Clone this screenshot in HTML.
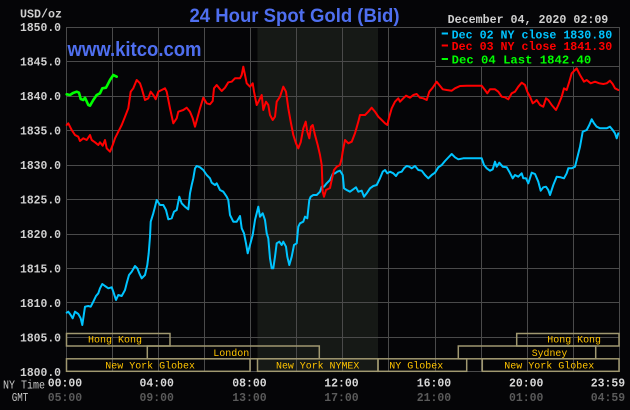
<!DOCTYPE html>
<html><head><meta charset="utf-8"><style>
html,body{margin:0;padding:0;background:#050507;}
svg{display:block;}
</style></head><body>
<svg width="630" height="410" viewBox="0 0 630 410" xmlns="http://www.w3.org/2000/svg">
<rect width="630" height="410" fill="#050507"/>
<!-- NYMEX shaded session -->
<rect x="257.5" y="27" width="120.5" height="344.5" fill="#161916"/>
<!-- grid -->
<g stroke="#4a4a4a" stroke-width="1" shape-rendering="crispEdges">
<line x1="66" y1="27.5" x2="619" y2="27.5"/>
<line x1="66" y1="61.5" x2="619" y2="61.5"/>
<line x1="66" y1="96.5" x2="619" y2="96.5"/>
<line x1="66" y1="130.5" x2="619" y2="130.5"/>
<line x1="66" y1="165.5" x2="619" y2="165.5"/>
<line x1="66" y1="199.5" x2="619" y2="199.5"/>
<line x1="66" y1="234.5" x2="619" y2="234.5"/>
<line x1="66" y1="268.5" x2="619" y2="268.5"/>
<line x1="66" y1="302.5" x2="619" y2="302.5"/>
<line x1="66" y1="337.5" x2="619" y2="337.5"/>
<line x1="66" y1="371.5" x2="619" y2="371.5"/>
<line x1="66.5" y1="27" x2="66.5" y2="372"/>
<line x1="112.5" y1="27" x2="112.5" y2="372"/>
<line x1="158.5" y1="27" x2="158.5" y2="372"/>
<line x1="204.5" y1="27" x2="204.5" y2="372"/>
<line x1="250.5" y1="27" x2="250.5" y2="372"/>
<line x1="296.5" y1="27" x2="296.5" y2="372"/>
<line x1="342.5" y1="27" x2="342.5" y2="372"/>
<line x1="388.5" y1="27" x2="388.5" y2="372"/>
<line x1="435.5" y1="27" x2="435.5" y2="372"/>
<line x1="481.5" y1="27" x2="481.5" y2="372"/>
<line x1="527.5" y1="27" x2="527.5" y2="372"/>
<line x1="573.5" y1="27" x2="573.5" y2="372"/>
<line x1="619.5" y1="27" x2="619.5" y2="372"/>
</g>
<!-- legend box -->
<rect x="436" y="28" width="183" height="38" fill="#050507"/>
<line x1="436" y1="66.5" x2="619" y2="66.5" stroke="#4a4a4a" stroke-width="1" shape-rendering="crispEdges"/>

<!-- exchange boxes -->
<g fill="none" stroke="#a09870" stroke-width="1.5">
<rect x="66.5" y="333.5" width="103.5" height="12.5"/>
<rect x="147.3" y="346" width="172" height="12.8"/>
<rect x="66.5" y="358.8" width="183.5" height="12.5"/>
<rect x="257.5" y="358.8" width="120.5" height="12.5"/>
<rect x="378" y="358.8" width="88.7" height="12.5"/>
<rect x="482.3" y="358.8" width="136.7" height="12.5"/>
<rect x="458.3" y="346" width="137.4" height="12.8"/>
<rect x="516.7" y="333.5" width="102.3" height="12.5"/>
</g>
<g font-family="Liberation Mono, monospace" font-size="10" fill="#ffc400">
<text x="88" y="342.7" textLength="54" lengthAdjust="spacingAndGlyphs">Hong Kong</text>
<text x="213.3" y="356" textLength="36" lengthAdjust="spacingAndGlyphs">London</text>
<text x="105.3" y="368.5" textLength="89.7" lengthAdjust="spacingAndGlyphs">New York Globex</text>
<text x="276" y="368.5" textLength="83.3" lengthAdjust="spacingAndGlyphs">New York NYMEX</text>
<text x="389.3" y="368.5" textLength="54" lengthAdjust="spacingAndGlyphs">NY Globex</text>
<text x="504.3" y="368.5" textLength="90" lengthAdjust="spacingAndGlyphs">New York Globex</text>
<text x="531.7" y="356" textLength="35.6" lengthAdjust="spacingAndGlyphs">Sydney</text>
<text x="547.3" y="342.7" textLength="53.7" lengthAdjust="spacingAndGlyphs">Hong Kong</text>
</g>

<!-- series -->
<g fill="none" stroke-linejoin="round" stroke-linecap="round">
<polyline stroke="#00c4ff" stroke-width="2" points="66.7,312.7 68.3,311.7 70.7,315 72.7,318.3 75,311.7 78.3,314 80.7,318.3 82.3,325 85,306.7 88.3,306 90.7,306.7 93.3,301.7 96,296 98.3,293.3 100,288.3 102.3,284 105,286 108.3,288.3 111.7,287.3 113.3,291.7 116,300 118.3,295 121.7,296 125,290 126.7,283.3 129,275 131.7,271.7 135,266 137.3,268.3 139.3,273.3 141.7,278.3 145,275 147.3,265 148.7,253.3 150,236.7 150.7,221.7 153.3,213.3 155,206.7 156.7,200 160,205 163.3,205 166,210 168.3,219.3 171.7,218.3 174,211.7 176.7,210 179.3,196.7 181.7,203.3 185,206.7 188.3,209.3 190,193.3 191.7,185 193.3,178.3 195,168.3 196.7,166 200,167.3 203.3,170 206.7,175 210,178.3 211.7,182.7 215,185 216.7,183.3 220,190 223.3,191.7 226.7,196.7 228.3,200 230,215 233.3,221.7 236.7,221.7 240,216 241.7,228.3 244,233.3 246,243.3 247.7,253.3 250,245 252.7,235 255,220 258.3,206.7 260,216.7 262.7,213.3 265,220 266.7,233.3 268.3,238.3 270,258.3 271.7,268.3 273.3,268.3 275,256.7 276.7,243.3 279.3,241.7 281.7,245 283.3,241.7 286,246.7 287.3,256.7 289.3,265 291.7,256.7 294,245 296.7,243.3 298.3,226.7 300,223.3 303.3,221.7 305,216.7 307.3,218.3 309.3,200 310.7,196.7 313.3,195 316.7,195 320,191.7 321.7,186.7 324,186.7 326.7,183.3 330,180 332.7,174 335,173.3 337.3,171.7 340,170.7 342.7,175 344,188.3 346.7,190 350,191.7 353.3,189.3 356,187.3 358.3,191.7 361.7,190.7 364,196.7 366.7,193.3 370,188.3 373.3,186 376.7,185 380,178.3 382.7,171.7 385,170 387.3,173.3 390,171.7 393.3,173.3 396,176 398.3,172.7 401.7,171.7 404,168.3 406.7,166 409.3,166.7 411.7,168.3 415,166 418.3,170 421.7,170.7 425,175 428.3,178.3 431.7,175 435,172.7 438.3,167.3 441.7,165 445,161 448.3,157.5 451.7,154 455,157.3 458.3,159.3 463.3,158.3 481.7,158.3 484,165 486.7,168.3 490,170.7 492.7,169.3 495,161.7 496.7,166.7 499.3,162.7 502.7,166.7 506.7,167.3 509.3,171.7 512.7,178.3 515,175 518.3,176.7 521.7,173.3 523.3,178.3 526,178.3 528.3,183.3 531.7,172.7 535,174 538.3,181.7 540.7,190.7 543.3,187.3 546,186.7 548.3,190 550,195 553.3,185 556.7,176.7 560.7,177.3 564,178.3 566.7,173.3 568.3,168.3 571.7,168.3 575,166.7 576.7,160 580,146.7 582.7,131.7 586.7,130 589.3,125 591.7,119.3 594,123.3 596.7,126.7 600,128.3 606.7,128.3 610,126.7 612.7,130 615,133.3 616.7,138.3 618.3,133.3"/>
<polyline stroke="#ff0000" stroke-width="2" points="66.7,125 68.3,123.3 71.7,130 75,135 78.3,136.7 80,141 83.3,138.3 86.7,140 90,135 91.7,140 95,142.3 98.3,145 100,142.3 102.7,145.7 105,140 106.7,148.3 110,151.7 112.7,145 115,138.3 118.3,131.7 121.7,125 125,116.7 128.3,108.3 130.7,91.7 133.3,88.3 136.7,80 140,83.3 141.7,88.3 145,100 148.3,98.3 150.7,91.7 153.3,95 155.7,99.3 158.3,91.7 161.7,90 165,88.3 166.7,91.7 170,108.3 173.3,123.3 176.7,118.3 178.3,111.7 183.3,110 186.7,107.7 190,111.7 192.7,118.3 195,126.7 197.3,118.3 200,108.3 203.3,97.7 206.7,103.3 210,104.3 212.7,101 214,88.3 216.7,85 219.3,88.3 221.7,91 225,87.7 228.3,82.3 231.7,81.7 235,78.3 240,78.3 241.7,75 243.3,66.7 245,75 246.7,83.3 250,86.7 252.7,83.3 254,91.7 256.7,105 259.3,100 261.7,95 263.3,110 266,101.7 268.3,105 270,115 272.7,120 275,116.7 276.7,101.7 280,96.7 283.3,86.7 286,91.7 288.3,108.3 290.7,121.7 293.3,135 296,143.3 298.3,148.3 300.7,142.3 303.3,128.3 305.7,121.7 307.3,131.7 309.3,138.3 311,126.7 312.7,125 315,135 317.7,145 320,155 321.7,165 322.7,191.7 324,196.7 326,190 330,188 331.7,180 334,170 336.7,166.7 340,165 341.7,158.3 342.7,151.7 345,140 348.3,143.3 351.7,141.7 355,133.3 358.3,121.7 360,115 365,115 368.3,111.7 371.7,107.7 375,111.7 378.3,116.7 381.7,120 385,123.3 387.3,125 389.3,116.7 391.7,108.3 395,101.7 398.3,98.3 400,101.7 403.3,98.3 406,95.7 410,97.7 413.3,95 416.7,94 420,97.7 423.3,98.3 426.7,100 429.3,91.7 432.7,87.7 436.7,81.7 439.3,85 442.7,89.3 446.7,90 451.7,90.7 455,88.3 460,86 466.7,85.7 481.7,85.7 485,90 487.3,93.3 490,89.3 495,89.3 498.3,91.7 501.7,96.7 505,97.3 508.3,99.3 511.7,93.3 515,91.7 518.3,86.7 521.7,82.7 525,85 527.3,91.7 530,96.7 532.7,103.3 535,101.7 536.7,100 540,105 543.3,106.7 546,98.3 548.3,100 551.7,105 556,110 558.3,105 561.7,96.7 564,88.3 566.7,90 569.3,81.7 571.7,73.3 575,70 576.7,68.3 580,75 584,81.7 586.7,80 590.7,83.3 595,81.7 599.3,83.3 603.3,84 606.7,83.3 610,80.7 612.7,84 615,88.3 618.3,90"/>
<polyline stroke="#00ff00" stroke-width="2.6" points="66.7,94.3 70,95 73,93 76.7,91.7 79,92.7 80.7,99 83.3,100 85,97.7 88.3,105 90,105.7 93.3,100 96.7,95 100,93.3 102.3,88.3 106,87.7 108.3,83.3 110,80 113.3,75 116.7,76.7"/>
</g>

<!-- titles -->
<text x="189.5" y="22" font-family="Liberation Sans, Arial, sans-serif" font-weight="bold" font-size="19.5" fill="#4f6ff0" textLength="210" lengthAdjust="spacingAndGlyphs">24 Hour Spot Gold (Bid)</text>
<text x="67.5" y="56" font-family="Liberation Sans, Arial, sans-serif" font-weight="bold" font-size="20" fill="#4f6ff0" textLength="134" lengthAdjust="spacingAndGlyphs">www.kitco.com</text>

<!-- date & legend -->
<g font-family="Liberation Mono, monospace" font-weight="bold" font-size="11.5">
<text x="447.7" y="23" fill="#d0d0d0" textLength="160.6" lengthAdjust="spacingAndGlyphs">December 04, 2020 02:09</text>
<rect x="441.7" y="32.5" width="6.3" height="2" fill="#00c4ff"/>
<text x="451.7" y="38.3" fill="#00c4ff" textLength="160.5" lengthAdjust="spacingAndGlyphs">Dec 02 NY close 1830.80</text>
<rect x="441.7" y="44.5" width="6.3" height="2" fill="#ff0000"/>
<text x="451.7" y="50.2" fill="#ff0000" textLength="160.5" lengthAdjust="spacingAndGlyphs">Dec 03 NY close 1841.30</text>
<rect x="441.7" y="58" width="6.3" height="2" fill="#00ff00"/>
<text x="451.7" y="63.3" fill="#00ff00" textLength="139.5" lengthAdjust="spacingAndGlyphs">Dec 04 Last 1842.40</text>
</g>

<!-- y axis labels -->
<g font-family="Liberation Mono, monospace" font-weight="bold" font-size="11.5" fill="#d0d0d0">
<text x="20" y="17.3" textLength="42" lengthAdjust="spacingAndGlyphs">USD/oz</text>
<text x="20" y="31" textLength="41" lengthAdjust="spacingAndGlyphs">1850.0</text>
<text x="20" y="65.5" textLength="41" lengthAdjust="spacingAndGlyphs">1845.0</text>
<text x="20" y="100" textLength="41" lengthAdjust="spacingAndGlyphs">1840.0</text>
<text x="20" y="134.5" textLength="41" lengthAdjust="spacingAndGlyphs">1835.0</text>
<text x="20" y="169" textLength="41" lengthAdjust="spacingAndGlyphs">1830.0</text>
<text x="20" y="203.5" textLength="41" lengthAdjust="spacingAndGlyphs">1825.0</text>
<text x="20" y="238" textLength="41" lengthAdjust="spacingAndGlyphs">1820.0</text>
<text x="20" y="272.5" textLength="41" lengthAdjust="spacingAndGlyphs">1815.0</text>
<text x="20" y="307" textLength="41" lengthAdjust="spacingAndGlyphs">1810.0</text>
<text x="20" y="341.6" textLength="41" lengthAdjust="spacingAndGlyphs">1805.0</text>
<text x="20" y="376" textLength="41" lengthAdjust="spacingAndGlyphs">1800.0</text>
</g>

<!-- x axis labels -->
<g font-family="Liberation Mono, monospace" font-size="11.5" fill="#c8c8c8">
<text x="3" y="388.3" textLength="42" lengthAdjust="spacingAndGlyphs">NY Time</text>
<text x="11.7" y="401" textLength="16.6" lengthAdjust="spacingAndGlyphs">GMT</text>
</g>
<g font-family="Liberation Mono, monospace" font-weight="bold" font-size="11.5" fill="#d8d8d8">
<text x="47.7" y="386.7" textLength="34.4" lengthAdjust="spacingAndGlyphs">00:00</text>
<text x="139.5" y="386.7" textLength="34.4" lengthAdjust="spacingAndGlyphs">04:00</text>
<text x="232.3" y="386.7" textLength="34.4" lengthAdjust="spacingAndGlyphs">08:00</text>
<text x="324.3" y="386.7" textLength="34.4" lengthAdjust="spacingAndGlyphs">12:00</text>
<text x="416.7" y="386.7" textLength="34.4" lengthAdjust="spacingAndGlyphs">16:00</text>
<text x="509" y="386.7" textLength="34.4" lengthAdjust="spacingAndGlyphs">20:00</text>
<text x="590.7" y="386.7" textLength="34.4" lengthAdjust="spacingAndGlyphs">23:59</text>
</g>
<g font-family="Liberation Mono, monospace" font-weight="bold" font-size="11.5" fill="#5a5a5a">
<text x="47.7" y="401" textLength="34.4" lengthAdjust="spacingAndGlyphs">05:00</text>
<text x="139.5" y="401" textLength="34.4" lengthAdjust="spacingAndGlyphs">09:00</text>
<text x="232.3" y="401" textLength="34.4" lengthAdjust="spacingAndGlyphs">13:00</text>
<text x="324.3" y="401" textLength="34.4" lengthAdjust="spacingAndGlyphs">17:00</text>
<text x="416.7" y="401" textLength="34.4" lengthAdjust="spacingAndGlyphs">21:00</text>
<text x="509" y="401" textLength="34.4" lengthAdjust="spacingAndGlyphs">01:00</text>
<text x="590.7" y="401" textLength="34.4" lengthAdjust="spacingAndGlyphs">04:59</text>
</g>
</svg>
</body></html>
